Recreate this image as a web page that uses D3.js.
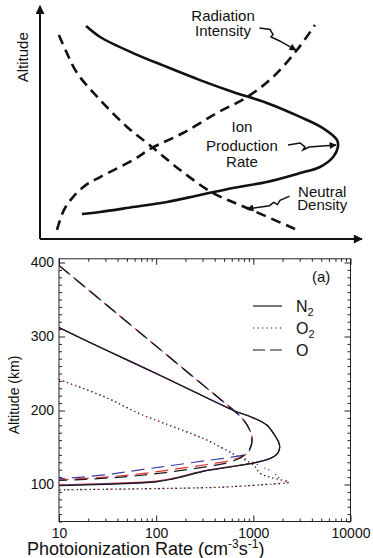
<!DOCTYPE html>
<html><head><meta charset="utf-8">
<script src="https://cdn.jsdelivr.net/npm/d3@7"></script>
<style>body{margin:0;background:#fff}svg{display:block;font-family:"Liberation Sans",Arial,Helvetica,sans-serif}</style>
</head><body><svg id="c" width="373" height="558"></svg>
<script>
// ---------- Top schematic (arbitrary units 0-100) ----------
const ionProduction = [[14.4,91.4],[18.8,86.7],[29.1,79.8],[39.7,73.8],[50.0,68.2],[60.3,63.1],[70.9,58.4],[81.3,52.4],[88.4,47.6],[92.8,42.5],[93.1,39.5],[91.6,35.2],[87.5,30.9],[81.3,28.3],[70.9,24.5],[60.3,21.9],[50.0,18.9],[39.7,15.9],[29.1,13.7],[18.8,11.6],[13.1,10.7]];
const radiationIntensity = [[5.3,3.9],[7.5,12.5],[10.3,18.0],[14,22.8],[18.8,26.6],[29.1,33.9],[35.0,39.1],[44.7,45.5],[55.3,54.1],[64.7,60.9],[72.8,69.5],[80.3,81.1],[85.9,91.8]];
const neutralDensity = [[5.9,87.6],[8.4,79.8],[11.6,71.2],[18.8,59.7],[27.2,48.1],[35.0,39.5],[43.8,29.6],[54.1,19.7],[64.7,13.3],[79.7,4.3]];
const arrowRadiation = [[68.6,90.6],[71.9,89.9],[72.8,87.8],[72.2,86.7],[74.9,85.0],[80.0,81.1]];
const arrowIon = [[77.5,40.3],[81.3,41.2],[82.8,39.5],[82.2,38.2],[84.1,39.5],[92.5,40.3]];
const arrowNeutral = [[78.0,18.4],[75.0,16.6],[74.2,14.8],[73.0,15.7],[71.7,14.3],[64.7,12.9]];
const schematicLabels = [
  {t:"Radiation",x:57.2,y:93.6},{t:"Intensity",x:57.2,y:87.3},
  {t:"Ion",x:63.1,y:45.9},{t:"Production",x:63.1,y:37.8},{t:"Rate",x:63.1,y:30.9},
  {t:"Neutral",x:88.2,y:18.0},{t:"Density",x:88.2,y:12.5}];

// ---------- Bottom plot data: [rate (cm^-3 s^-1), altitude (km)] ----------
const xTickValues = [10,100,1000,10000];
const yTickValues = [100,200,300,400];
const N2_black = [[10,98.3],[30,100.3],[100,103.5],[150,107.5],[300,117.5],[600,124],[1000,129],[1300,132.5],[1618,137.5],[1800,143],[1866,150],[1820,157.5],[1650,167],[1383,180],[1000,190],[627,200],[300,220],[100,250],[30,282],[10,312]];
const N2_red   = [[10,99.6],[30,101.3],[100,104.6],[150,108.5],[300,118],[600,124.4],[1000,129.2],[1300,132.7],[1618,137.6],[1800,143],[1866,150],[1820,157.5],[1650,167],[1383,180],[1000,190],[627,200],[300,220],[100,250],[30,282],[10,312]];
const N2_blue  = [[10,99.0],[30,100.8],[100,104.0],[150,108.0],[300,117.8],[600,124.2],[1000,129.1],[1300,132.6],[1618,137.5],[1800,143],[1866,150],[1820,157.5],[1650,167],[1383,180],[1000,190],[627,200],[300,220],[100,250],[30,282],[10,312]];
const O2_black = [[10,242],[30,218],[68,195.5],[150,178],[333,160],[627,141],[1007,126],[1180,115],[1496,109.8],[2313,103],[1500,100.5],[931,98.6],[500,96.5],[284,95.5],[68,94.1],[10,92.8]];
const O2_red   = [[10,242],[30,218],[68,195.5],[150,178],[333,160],[627,141],[931,132],[1276,122.6],[1556,118],[1897,107.7],[2313,103.5],[1500,100.6],[931,98.7],[500,96.6],[284,95.6],[68,94.2],[10,92.9]];
const O2_blue  = [[10,242],[30,218],[68,195.5],[150,178],[333,160],[627,141],[931,132],[1276,122.6],[1556,118],[1897,107.7],[2313,103.5],[1500,100.6],[931,98.7],[500,96.6],[284,95.6],[68,94.2],[10,92.9]];
const O_black  = [[10,396],[30,344],[100,287],[300,235],[579,204],[760,190],[900,176],[968,163],[930,150],[780,138.5],[600,131],[333,124.3],[150,117.5],[68,112.2],[30,108.5],[10,105.4]];
const O_red    = [[10,396],[30,344],[100,287],[300,235],[579,204],[760,190],[900,176],[968,163],[935,150],[820,140],[600,133],[333,127],[150,120.5],[68,114.4],[30,110],[10,106.4]];
const O_blue   = [[10,396],[30,344],[100,287],[300,235],[579,204],[760,190],[900,176],[968,163],[945,151],[861,142],[600,137],[333,132.4],[150,126],[68,119.8],[30,113],[10,107.7]];
const legendItems = [{name:"N",sub:"2",style:"solid"},{name:"O",sub:"2",style:"dot"},{name:"O",sub:"",style:"dash"}];

const svg = d3.select("#c");
svg.append("rect").attr("width",373).attr("height",558).attr("fill","#fff");

// ===== Top schematic =====
const sx = d3.scaleLinear().domain([0,100]).range([40,360]);
const sy = d3.scaleLinear().domain([0,100]).range([239,6]);
const defs = svg.append("defs");
defs.append("marker").attr("id","ah").attr("viewBox","0 0 10 10").attr("refX",9).attr("refY",5)
  .attr("markerWidth",9).attr("markerHeight",7).attr("markerUnits","userSpaceOnUse").attr("orient","auto")
  .append("path").attr("d","M0,0L10,5L0,10z").attr("fill","#111");
defs.append("marker").attr("id","axh").attr("viewBox","0 0 10 10").attr("refX",9).attr("refY",5)
  .attr("markerWidth",12).attr("markerHeight",9).attr("markerUnits","userSpaceOnUse").attr("orient","auto")
  .append("path").attr("d","M0,0L10,5L0,10z").attr("fill","#111");

const topG = svg.append("g");
topG.append("line").attr("x1",sx(0)).attr("y1",sy(0)).attr("x2",sx(0)).attr("y2",sy(100))
  .attr("stroke","#111").attr("stroke-width",2).attr("marker-end","url(#axh)");
topG.append("line").attr("x1",sx(0)).attr("y1",sy(0)).attr("x2",sx(100.6)).attr("y2",sy(0))
  .attr("stroke","#111").attr("stroke-width",2).attr("marker-end","url(#axh)");
topG.append("text").attr("transform",`translate(${sx(0)-12},${sy(78)}) rotate(-90)`)
  .attr("text-anchor","middle").attr("font-size",15).attr("fill","#111").attr("font-weight","500").text("Altitude");

const sline = d3.line().x(d=>sx(d[0])).y(d=>sy(d[1])).curve(d3.curveCatmullRom.alpha(0.5));
topG.append("path").attr("d",sline(ionProduction)).attr("fill","none").attr("stroke","#111").attr("stroke-width",2.6);
topG.append("path").attr("d",sline(radiationIntensity)).attr("fill","none").attr("stroke","#111").attr("stroke-width",2.6).attr("stroke-dasharray","10,6");
topG.append("path").attr("d",sline(neutralDensity)).attr("fill","none").attr("stroke","#111").attr("stroke-width",2.6).attr("stroke-dasharray","10,6");
const aline = d3.line().x(d=>sx(d[0])).y(d=>sy(d[1]));
[arrowRadiation,arrowIon,arrowNeutral].forEach(a=>{
  topG.append("path").attr("d",aline(a)).attr("fill","none").attr("stroke","#111").attr("stroke-width",1.5).attr("marker-end","url(#ah)");
});
topG.selectAll("text.lab").data(schematicLabels).join("text").attr("class","lab")
  .attr("x",d=>sx(d.x)).attr("y",d=>sy(d.y)).attr("text-anchor","middle").attr("font-size",15).attr("fill","#111").text(d=>d.t);

// ===== Bottom plot =====
const L=59, R=350.5, T=258.8, B=521.5;
const x = d3.scaleLog().domain([10,10000]).range([L,R]);
const y = d3.scaleLinear().domain([50,405]).range([B,T]);
const g = svg.append("g");
defs.append("clipPath").attr("id","pc").append("rect").attr("x",L).attr("y",T).attr("width",R-L).attr("height",B-T);

const minorX = [];
for (let e=10;e<10000;e*=10) for (let k=2;k<=9;k++) minorX.push(e*k);
const minorY = d3.range(50,406,10).filter(v=>v%100!==0);

function axisStyle(sel){ sel.select(".domain").remove(); sel.selectAll("line").attr("stroke","#222"); sel.selectAll("text").attr("fill","#111").attr("font-size",14).attr("font-family","Liberation Sans, Arial, sans-serif"); }
g.append("g").attr("transform",`translate(0,${B})`).call(d3.axisBottom(x).tickValues(xTickValues).tickFormat(d3.format("d")).tickSizeInner(-6).tickSizeOuter(0).tickPadding(7)).call(axisStyle);
g.append("g").attr("transform",`translate(0,${B})`).call(d3.axisBottom(x).tickValues(minorX).tickFormat("").tickSizeInner(-3).tickSizeOuter(0)).call(axisStyle);
g.append("g").attr("transform",`translate(0,${T})`).call(d3.axisTop(x).tickValues(xTickValues).tickFormat("").tickSizeInner(-6).tickSizeOuter(0)).call(axisStyle);
g.append("g").attr("transform",`translate(0,${T})`).call(d3.axisTop(x).tickValues(minorX).tickFormat("").tickSizeInner(-3).tickSizeOuter(0)).call(axisStyle);
g.append("g").attr("transform",`translate(${L},0)`).call(d3.axisLeft(y).tickValues(yTickValues).tickSizeInner(-6).tickSizeOuter(0).tickPadding(5)).call(axisStyle);
g.append("g").attr("transform",`translate(${L},0)`).call(d3.axisLeft(y).tickValues(minorY).tickFormat("").tickSizeInner(-3).tickSizeOuter(0)).call(axisStyle);
g.append("g").attr("transform",`translate(${R},0)`).call(d3.axisRight(y).tickValues(yTickValues).tickFormat("").tickSizeInner(-6).tickSizeOuter(0)).call(axisStyle);
g.append("g").attr("transform",`translate(${R},0)`).call(d3.axisRight(y).tickValues(minorY).tickFormat("").tickSizeInner(-3).tickSizeOuter(0)).call(axisStyle);
g.append("rect").attr("x",L).attr("y",T).attr("width",R-L).attr("height",B-T).attr("fill","none").attr("stroke","#222").attr("stroke-width",1);

const line = d3.line().x(d=>x(d[0])).y(d=>y(d[1])).curve(d3.curveCatmullRom.alpha(0.5));
const plot = g.append("g").attr("clip-path","url(#pc)");
function draw(data,color,w,da,offset){
  const p = plot.append("path").attr("d",line(data)).attr("fill","none").attr("stroke",color).attr("stroke-width",w);
  if (da) p.attr("stroke-dasharray",da).attr("stroke-dashoffset",offset);
}
const RED="#e8322d", BLUE="#3a3fa0", BLK="#1a1a1a";
// O2 dotted: three interleaved dot trains
draw(O2_black,BLK,1.3,"1.3,3",0);
draw(O2_red,RED,1.3,"1.3,11.6",-4.3);
draw(O2_blue,BLUE,1.3,"1.3,11.6",-8.6);
// N2 solid
draw(N2_red,RED,1.2,null,0); draw(N2_blue,BLUE,1.2,null,0); draw(N2_black,BLK,1.2,null,0);
// O long dashes
draw(O_red,RED,1.2,"13,7",1.6); draw(O_blue,BLUE,1.2,"13,7",-1.6); draw(O_black,BLK,1.2,"13,7",0);

// legend
const legY = [306,328,350];
const legDash = {solid:null, dot:"1.3,3.2", dash:"12,5"};
legendItems.forEach((d,i)=>{
  const ln = g.append("line").attr("x1",253).attr("x2",282).attr("y1",legY[i]).attr("y2",legY[i]).attr("stroke",BLK).attr("stroke-width",1.2);
  if (legDash[d.style]) ln.attr("stroke-dasharray",legDash[d.style]);
  const t = g.append("text").attr("x",296).attr("y",legY[i]+6).attr("font-size",16).attr("fill","#111").text(d.name);
  if (d.sub) t.append("tspan").attr("dy",4).attr("font-size",11).text(d.sub);
});
g.append("text").attr("x",312).attr("y",282).attr("font-size",15).attr("fill","#111").text("(a)");

// axis titles
g.append("text").attr("transform",`translate(19,395) rotate(-90)`).attr("text-anchor","middle").attr("font-size",14).attr("fill","#111").text("Altitude (km)");
const xt = g.append("text").attr("x",27).attr("y",555).attr("font-size",18).attr("fill","#111");
xt.append("tspan").text("Photoionization Rate (cm");
xt.append("tspan").attr("dy",-7).attr("font-size",12).text("-3");
xt.append("tspan").attr("dy",7).text("s");
xt.append("tspan").attr("dy",-7).attr("font-size",12).text("-1");
xt.append("tspan").attr("dy",7).text(")");
</script></body></html>
